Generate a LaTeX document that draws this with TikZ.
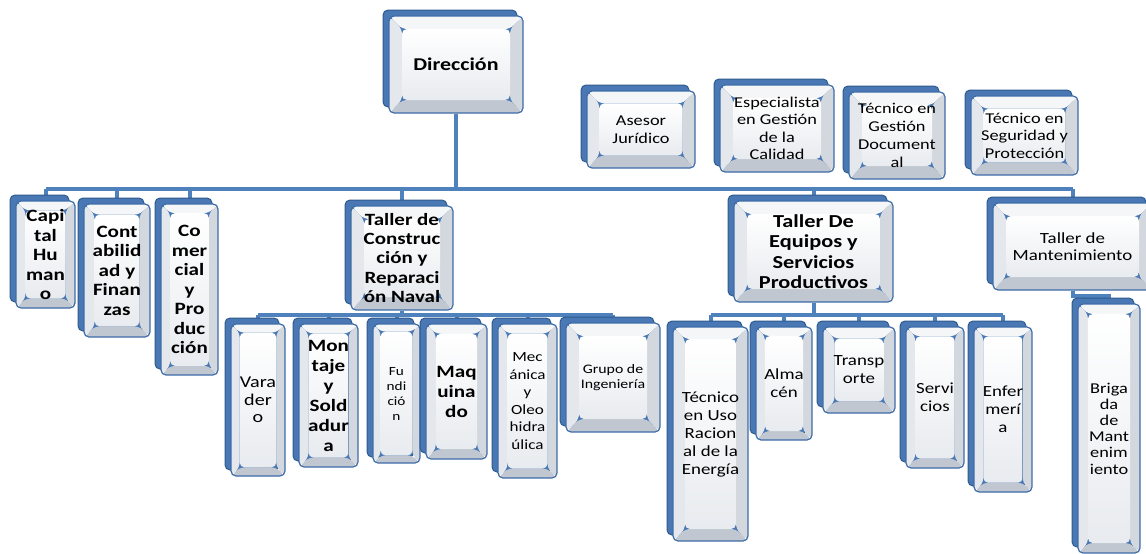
\documentclass[tikz,border=0pt]{standalone}
\usepackage{fontspec}
\setmainfont[FakeStretch=1.22]{Carlito}
\usetikzlibrary{calc}
\definecolor{sblue}{HTML}{4A78B5}
\definecolor{sdark}{HTML}{2E5A8C}
\definecolor{fborder}{HTML}{3D6CA8}
\definecolor{bvT}{HTML}{F4F6F8}
\definecolor{bvL}{HTML}{E4E8ED}
\definecolor{bvR}{HTML}{D3D8DF}
\definecolor{bvB}{HTML}{C0C7D0}
\definecolor{inBot}{HTML}{E8EBEF}
\definecolor{connc}{HTML}{4F81BD}
\pgfdeclarelayer{bg}
\pgfsetlayers{bg,main}
\newcommand\fb[2]{\fontsize{#1}{#2}\selectfont\bfseries}
\newcommand\fr[2]{\fontsize{#1}{#2}\selectfont}
\tikzset{
  shadowbox/.style={fill=sblue, draw=sdark, line width=1pt, rounded corners=5pt},
  orgbox/.style={rounded corners=5pt, draw=fborder, line width=1.2pt, inner sep=0pt,
    align=center, text=black,
    path picture={
      \path (path picture bounding box.south west) coordinate (pa)
            (path picture bounding box.north east) coordinate (pb);
      \coordinate (qNW) at (pa |- pb);
      \coordinate (qSE) at (pb |- pa);
      \coordinate (iNW) at ($(qNW)+(\bv,-\bv)$);
      \coordinate (iNE) at ($(pb)+(-\bv,-\bv)$);
      \coordinate (iSE) at ($(qSE)+(-\bv,\bv)$);
      \coordinate (iSW) at ($(pa)+(\bv,\bv)$);
      \fill[bvT] (qNW) -- (pb) -- (iNE) -- (iNW) -- cycle;
      \fill[bvR] (pb) -- (qSE) -- (iSE) -- (iNE) -- cycle;
      \fill[bvB] (qSE) -- (pa) -- (iSW) -- (iSE) -- cycle;
      \fill[bvL] (pa) -- (qNW) -- (iNW) -- (iSW) -- cycle;
      \shade[top color=white, bottom color=inBot] (iNW) rectangle (iSE);
    }},
  conn/.style={draw=connc, line width=4pt},
}
\newcommand\obox[7]{%
  \pgfmathsetmacro\ocx{(#2+6+#4)/2}%
  \pgfmathsetmacro\ocy{(#3+6+#5)/2}%
  \pgfmathsetmacro\ow{#4-#2-6}%
  \pgfmathsetmacro\oh{#5-#3-6}%
  \pgfmathsetmacro\obv{min(13,0.16*min(\ow,\oh))}%
  \def\bv{\obv pt}%
  \filldraw[shadowbox] (#2,#3) rectangle (#4-6,#5-6);
  \node[orgbox, minimum width=\ow pt, minimum height=\oh pt, font=#6] (#1) at (\ocx,\ocy) {#7};
}
\begin{document}
\begin{tikzpicture}[x=1pt,y=-1pt]
\useasboundingbox (0,0) rectangle (1146,554);
\obox{dir}{383}{10}{523}{113}{\fb{18}{20}}{Dirección}
\obox{ase}{581}{85}{695}{168}{\fr{15}{17.5}}{Asesor\\Jurídico}
\obox{esp}{714}{79}{834}{172}{\fr{15}{17.5}}{Especialista\\en Gestión\\de la\\Calidad}
\obox{tgd}{843}{86}{945}{179}{\fr{15}{18}}{Técnico en\\Gestión\\Document\\al}
\obox{tsp}{965}{90}{1078}{175}{\fr{15}{17.5}}{Técnico en\\Seguridad y\\Protección}
\obox{cap}{10}{195}{75}{308}{\fb{17.3}{19.5}}{Capi\\tal\\Hu\\man\\o}
\obox{con}{78}{198}{150}{337}{\fb{17.3}{19.5}}{Cont\\abilid\\ad y\\Finan\\zas}
\obox{com}{155}{198}{218}{375}{\fb{17.3}{19.5}}{Co\\mer\\cial\\y\\Pro\\duc\\ción}
\obox{tcr}{345}{200}{453}{310}{\fb{17.2}{19.2}}{Taller de\\Construc\\ción y\\Reparaci\\ón Naval}
\obox{teq}{728}{195}{893}{302}{\fb{18.3}{20.5}}{Taller De\\Equipos y\\Servicios\\Productivos}
\obox{man}{987}{197}{1152}{290}{\fr{15.5}{17}}{Taller de\\Mantenimiento}
\obox{var}{225}{318}{285}{476}{\fr{16.5}{17.5}}{Vara\\der\\o}
\obox{mon}{293}{318}{358}{467}{\fb{17.3}{20}}{Mon\\taje\\y\\Sold\\adur\\a}
\obox{fun}{367}{318}{420}{463}{\fr{12.5}{15}}{Fu\\ndi\\ció\\n}
\obox{maq}{420}{318}{487}{459}{\fb{17.3}{20}}{Maq\\uina\\do}
\obox{mec}{492}{318}{557}{478}{\fr{14}{17.5}}{Mec\\ánica\\y\\Oleo\\hidra\\úlica}
\obox{gru}{560}{317}{660}{432}{\fr{13}{15}}{Grupo de\\Ingeniería}
\obox{tur}{667}{321}{748}{541}{\fr{15.5}{18}}{Técnico\\en Uso\\Racion\\al de la\\Energía}
\obox{alm}{750}{321}{812}{440}{\fr{15.5}{18}}{Alma\\cén}
\obox{tra}{817}{321}{895}{413}{\fr{15.5}{18}}{Transp\\orte}
\obox{ser}{900}{321}{964}{468}{\fr{15.5}{18}}{Servi\\cios}
\obox{enf}{968}{321}{1032}{492}{\fr{15.5}{18}}{Enfer\\merí\\a}
\obox{bri}{1072}{298}{1140}{553}{\fr{15}{16.2}}{Briga\\da\\de\\Mant\\enim\\iento}
\begin{pgfonlayer}{bg}
  \coordinate (b1) at (0,189);
  \coordinate (b2) at (0,315);
  \coordinate (b3) at (0,315);
  \coordinate (b4) at (0,296);
  \draw[conn] (dir.south) -- (dir.south |- b1);
  \draw[conn] (cap.north |- b1) -- (man.north |- b1);
  \foreach \n in {cap,con,com,tcr,teq,man} \draw[conn] (\n.north |- b1) -- (\n.north);
  \draw[conn] (tcr.south) -- (tcr.south |- b2);
  \draw[conn] (var.north |- b2) -- (gru.north |- b2);
  \foreach \n in {var,mon,fun,maq,mec,gru} \draw[conn] (\n.north |- b2) -- (\n.north);
  \draw[conn] (teq.south) -- (teq.south |- b3);
  \draw[conn] (tur.north |- b3) -- (enf.north |- b3);
  \foreach \n in {tur,alm,tra,ser,enf} \draw[conn] (\n.north |- b3) -- (\n.north);
  \draw[conn] (man.south) -- (man.south |- b4) -| (bri.north);
\end{pgfonlayer}
\end{tikzpicture}
\end{document}
